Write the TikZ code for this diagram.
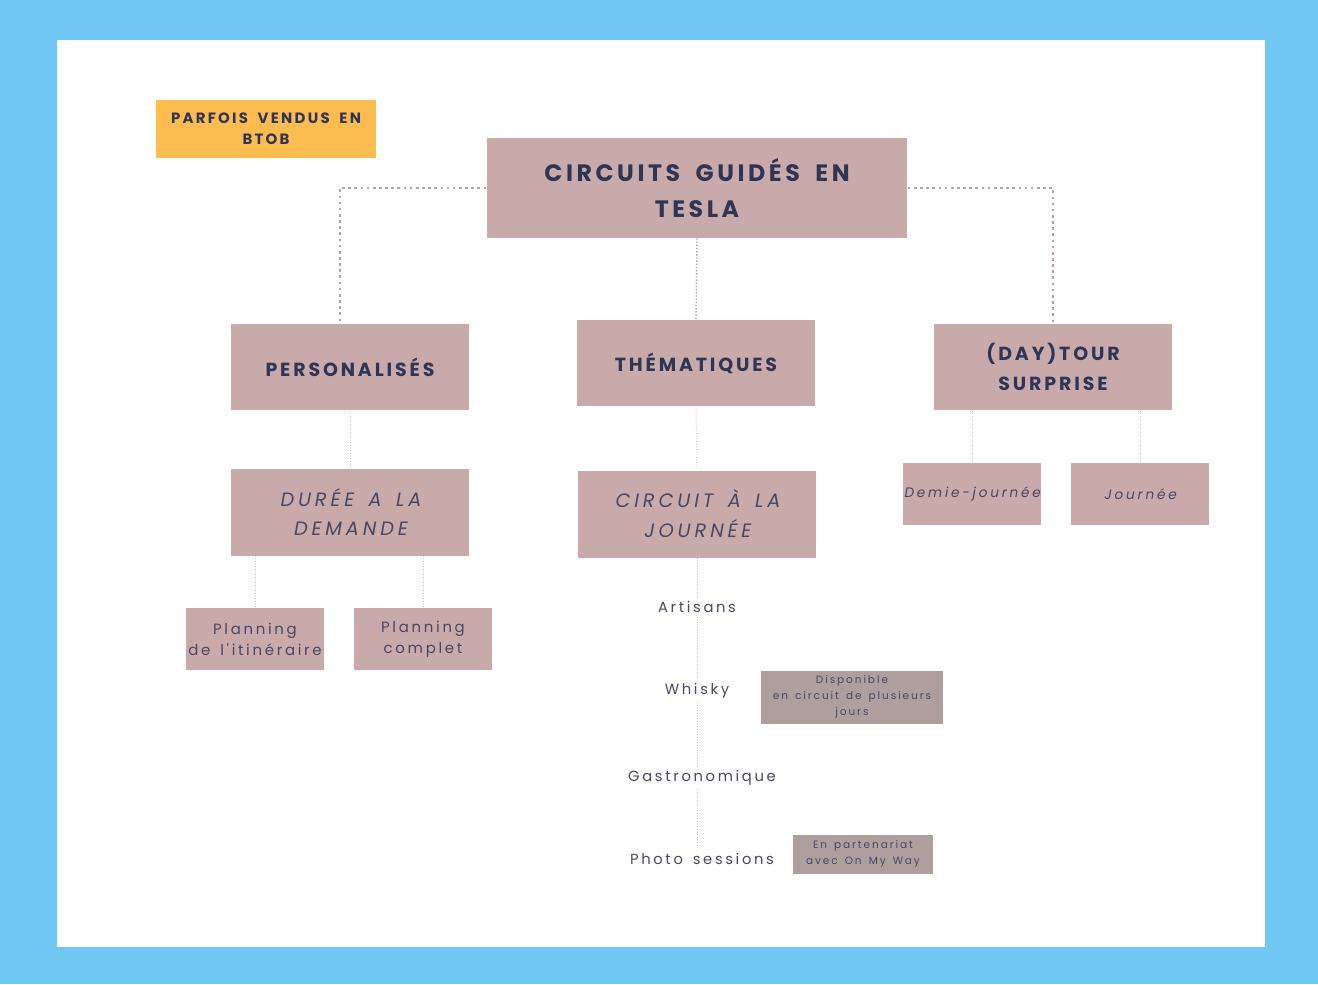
\documentclass[tikz,border=0pt]{standalone}
\usepackage{fontspec}
\usepackage{xcolor}
\setmainfont{Poppins}
\newfontfamily\headfont[LetterSpace=15, WordSpace=1.8]{Poppins}
\newfontfamily\slantfont[LetterSpace=20, WordSpace=1.6, FakeSlant=0.18]{Poppins}
\newfontfamily\spacedfont[LetterSpace=18, WordSpace=1.5]{Poppins}
\usetikzlibrary{positioning}
\definecolor{framebl}{RGB}{112,199,242}
\definecolor{rosebox}{RGB}{201,170,170}
\definecolor{notebox}{RGB}{174,158,158}
\definecolor{orangebox}{RGB}{253,188,80}
\definecolor{navy}{RGB}{47,53,84}
\definecolor{softnavy}{RGB}{72,72,98}
\tikzstyle{mainbox} = [rectangle, fill=rosebox, inner sep=0, minimum width=8.42cm, minimum height=2cm, align=center, text=navy, font=\headfont\bfseries\fontsize{13.5}{20}\selectfont]
\tikzstyle{tagbox} = [rectangle, fill=orangebox, inner sep=0, minimum width=4.42cm, minimum height=1.16cm, align=center, text=navy, font=\headfont\bfseries\fontsize{8.5}{12}\selectfont]
\tikzstyle{catbox} = [rectangle, fill=rosebox, inner sep=0, minimum width=4.78cm, minimum height=1.74cm, align=center, text=navy, font=\headfont\bfseries\fontsize{10.8}{17}\selectfont]
\tikzstyle{durbox} = [rectangle, fill=rosebox, inner sep=0, minimum width=4.78cm, minimum height=1.74cm, align=center, text=softnavy, font=\slantfont\fontsize{11}{17}\selectfont]
\tikzstyle{optbox} = [rectangle, fill=rosebox, inner sep=0, minimum width=2.76cm, minimum height=1.24cm, align=center, text=softnavy, font=\spacedfont\fontsize{8.5}{12}\selectfont]
\tikzstyle{optslant} = [optbox, font=\slantfont\fontsize{7.8}{12}\selectfont]
\tikzstyle{theme} = [inner sep=2pt, text=softnavy, font=\spacedfont\fontsize{8.4}{12}\selectfont]
\tikzstyle{notebx} = [rectangle, fill=notebox, inner sep=0, align=center, text=softnavy, font=\spacedfont\fontsize{6}{9}\selectfont]
\tikzstyle{bigdots} = [draw=rosebox!80!gray, dotted, line width=1.5pt]
\tikzstyle{middots} = [draw=gray!70, densely dotted, line width=0.8pt]
\tikzstyle{thinline} = [draw=gray!45, densely dotted, line width=0.5pt]

\begin{document}
\begin{tikzpicture}[x=0.02cm, y=-0.02cm]

% frame
\fill [framebl] (0,0) rectangle (1318,984);
\fill [white] (57,40) rectangle (1265,947);
\useasboundingbox (0,0) rectangle (1318,984);

\node [tagbox] (btob) at (266,129) {\raisebox{-2pt}{PARFOIS VENDUS EN}\\\raisebox{-2pt}{BTOB}};
\node [mainbox] (tesla) at (697,188) {CIRCUITS GUIDÉS EN\\TESLA};

\node [catbox] (perso) at (350,367) {PERSONALISÉS};
\node [catbox] (thema) at (696,363) {THÉMATIQUES};
\node [catbox] (daytour) at (1053,367) {(DAY)TOUR\\SURPRISE};

\node [durbox] (duree) at (350,512) {DURÉE A LA\\DEMANDE};
\node [durbox] (journ) at (697,514) {CIRCUIT À LA\\JOURNÉE};
\node [optslant] (demi) at (972,494) {Demie-journée};
\node [optslant] (jour) at (1140,494) {Journée};

\node [optbox] (planit) at (255,639) {Planning\\de l'itinéraire};
\node [optbox] (plancomp) at (423,639) {Planning\\complet};

\node [theme] (artisans) at (697,607) {Artisans};
\node [theme] (whisky) at (697,691) {Whisky};
\node [theme] (gastro) at (702,778) {Gastronomique};
\node [theme] (photo) at (702,859) {Photo sessions};

\node [notebx, minimum width=3.64cm, minimum height=1.06cm] (dispo) at (852,697) {Disponible\\en circuit de plusieurs\\jours};
\node [notebx, minimum width=2.8cm, minimum height=0.78cm] (partner) at (863,854) {En partenariat\\avec On My Way};

% main branches
\path [bigdots] (tesla.west) -| ([xshift=-0.2cm]perso.north);
\path [bigdots] (tesla.east) -| (daytour.north);
\path [middots] (tesla.south) -- (thema.north);

% sub branches
\path [thinline] (perso.south) -- (duree.north);
\path [thinline] (duree.south -| planit.north) -- (planit.north);
\path [thinline] (duree.south -| plancomp.north) -- (plancomp.north);
\path [thinline] (daytour.south -| demi.north) -- (demi.north);
\path [thinline] (daytour.south -| jour.north) -- (jour.north);

% themes
\path [thinline] (thema.south) -- (journ.north);
\path [thinline] (journ.south) -- (artisans.north);
\path [thinline] (artisans.south) -- (whisky.north);
\path [thinline] (whisky.south) -- (whisky.south |- gastro.north);
\path [thinline] (gastro.south -| whisky.south) -- (whisky.south |- photo.north);

\end{tikzpicture}
\end{document}
